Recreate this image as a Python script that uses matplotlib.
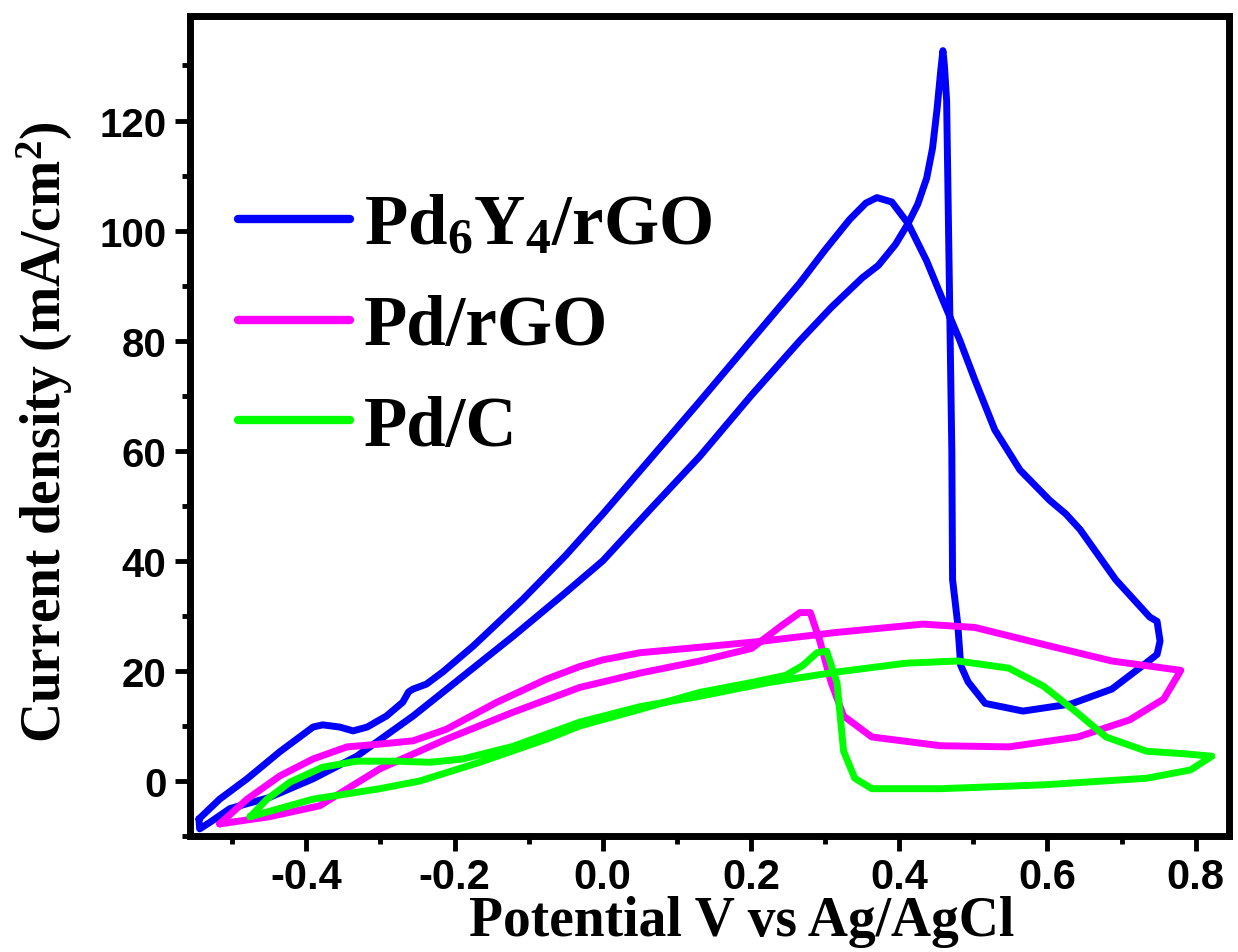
import matplotlib
matplotlib.use('Agg')
import matplotlib.pyplot as plt
from matplotlib import font_manager
from matplotlib.ticker import MultipleLocator

# Pd6Y4/rGO  (closed CV loop)
pdy_x = [-0.545, -0.517, -0.480, -0.436, -0.409, -0.391, -0.378, -0.355, -0.337, -0.318,
         -0.292, -0.270, -0.262, -0.256, -0.238, -0.216, -0.175, -0.108, -0.050, 0.000,
         0.131, 0.200, 0.266, 0.300, 0.333, 0.355, 0.370, 0.390, 0.412, 0.437,
         0.460, 0.482, 0.502, 0.529, 0.563, 0.603, 0.625, 0.644, 0.692, 0.738,
         0.748, 0.752, 0.748, 0.729, 0.687, 0.632, 0.567, 0.516, 0.493, 0.483,
         0.479, 0.472, 0.471, 0.468, 0.466, 0.464, 0.461, 0.459, 0.456, 0.451,
         0.445, 0.437, 0.425, 0.412, 0.395, 0.372, 0.350, 0.308, 0.266, 0.200,
         0.131, 0.065, 0.000, -0.054, -0.121, -0.189, -0.256, -0.332, -0.391, -0.450,
         -0.503, -0.530, -0.544, -0.545]
pdy_y = [-6.9, -3.3, 0.4, 5.3, 8.0, 9.8, 10.2, 9.8, 9.1, 9.8,
         11.8, 14.3, 16.2, 16.7, 17.6, 19.8, 24.5, 33.0, 41.0, 48.5,
         69.0, 80.0, 90.5, 96.5, 102.0, 105.0, 106.0, 105.2, 101.3, 94.5,
         87.0, 80.0, 72.9, 63.8, 56.5, 51.0, 48.5, 45.7, 36.6, 29.8,
         29.0, 25.4, 23.0, 21.0, 16.7, 14.0, 12.7, 14.1, 18.0, 21.0,
         28.5, 36.6, 60.0, 87.4, 105.5, 123.6, 130.0, 132.7, 129.0, 122.0,
         115.0, 109.5, 104.8, 101.3, 97.5, 93.7, 91.4, 86.0, 80.0, 70.0,
         59.0, 49.5, 40.0, 33.8, 26.3, 19.0, 11.8, 4.5, 0.4, -3.0,
         -5.0, -7.5, -8.7, -6.9]

# Pd/rGO
pd_rgo_x = [-0.517, -0.480, -0.436, -0.391, -0.345, -0.301, -0.256, -0.211, -0.143, -0.076,
            -0.031, 0.000, 0.050, 0.131, 0.215, 0.316, 0.432, 0.502, 0.595, 0.687,
            0.780, 0.757, 0.711, 0.641, 0.548, 0.456, 0.363, 0.325, 0.308, 0.293,
            0.280, 0.266, 0.238, 0.201, 0.131, 0.050, -0.031, -0.121, -0.211, -0.301,
            -0.382, -0.450, -0.517]
pd_rgo_y = [-7.8, -3.3, 0.9, 4.0, 6.2, 6.7, 7.3, 9.4, 14.3, 18.5,
            20.8, 22.0, 23.3, 24.3, 25.4, 27.0, 28.5, 27.9, 24.8, 21.8,
            20.1, 14.9, 11.1, 8.0, 6.2, 6.4, 8.0, 11.8, 18.0, 25.4,
            30.6, 30.6, 27.9, 24.1, 21.8, 19.6, 17.0, 12.5, 7.6, 2.2,
            -4.5, -6.5, -7.8]

# Pd/C
pd_c_x = [-0.476, -0.453, -0.422, -0.378, -0.332, -0.278, -0.233, -0.189, -0.121, -0.031,
          0.050, 0.131, 0.224, 0.316, 0.409, 0.479, 0.548, 0.595, 0.641, 0.679,
          0.734, 0.789, 0.822, 0.793, 0.734, 0.595, 0.456, 0.363, 0.340, 0.325,
          0.316, 0.302, 0.289, 0.270, 0.247, 0.201, 0.131, 0.050, -0.031, -0.076,
          -0.166, -0.247, -0.301, -0.391, -0.476]
pd_c_y = [-6.5, -3.3, -0.2, 2.5, 3.6, 3.6, 3.4, 4.0, 6.3, 10.7,
          13.5, 15.4, 17.9, 19.8, 21.4, 21.8, 20.5, 17.2, 12.3, 8.0,
          5.4, 4.9, 4.5, 2.0, 0.5, -0.7, -1.4, -1.4, 0.5, 5.4,
          17.9, 23.6, 23.3, 21.0, 19.2, 17.9, 16.1, 13.0, 10.0, 7.6,
          3.4, 0.0, -1.4, -3.3, -6.5]

series = [
    (pdy_x, pdy_y, '#0000ff', r'Pd$_6$Y$_4$/rGO'),
    (pd_rgo_x, pd_rgo_y, '#ff00ff', 'Pd/rGO'),
    (pd_c_x, pd_c_y, '#00ff00', 'Pd/C'),
]

xtick_vals = [-0.4, -0.2, 0.0, 0.2, 0.4, 0.6, 0.8]
xtick_labels = ['-0.4', '-0.2', '0.0', '0.2', '0.4', '0.6', '0.8']
ytick_vals = [0, 20, 40, 60, 80, 100, 120]
ytick_labels = ['0', '20', '40', '60', '80', '100', '120']

plt.rcParams['mathtext.fontset'] = 'custom'
plt.rcParams['mathtext.rm'] = 'Liberation Serif:bold'
plt.rcParams['mathtext.bf'] = 'Liberation Serif:bold'
plt.rcParams['mathtext.it'] = 'Liberation Serif:bold'

xtick_font = font_manager.FontProperties(family='Liberation Sans', weight='bold', size=30)
ytick_font = font_manager.FontProperties(family='Liberation Sans', weight='bold', size=29)
label_font = font_manager.FontProperties(family='Liberation Serif', weight='bold', size=40)
legend_font = font_manager.FontProperties(family='Liberation Serif', weight='bold', size=51)

fig = plt.figure(figsize=(12.38, 9.53), dpi=100)
ax = fig.add_axes([0.1535, 0.1217, 0.8392, 0.8605])

for x, y, c, lab in series:
    ax.plot(x, y, color=c, lw=5, label=lab, solid_capstyle='round', solid_joinstyle='round')

ax.set_xlim(-0.557, 0.845)
ax.set_ylim(-10, 139)

ax.set_xticks(xtick_vals)
ax.set_xticklabels(xtick_labels, fontproperties=xtick_font)
ax.set_yticks(ytick_vals)
ax.set_yticklabels(ytick_labels, fontproperties=ytick_font)
ax.xaxis.set_minor_locator(MultipleLocator(0.1))
ax.yaxis.set_minor_locator(MultipleLocator(10))
ax.tick_params(which='major', direction='out', length=11, width=3.5, pad=6)
ax.tick_params(which='minor', direction='out', length=6, width=3.5)
ax.tick_params(axis='x', which='major', pad=4)
for s in ax.spines.values():
    s.set_linewidth(5)

ax.set_xlabel('Potential V vs Ag/AgCl', fontproperties=label_font)
ax.xaxis.set_label_coords(0.531, -0.072)
ax.set_ylabel('Current density (mA/cm$^2$)', fontproperties=label_font)
ax.yaxis.set_label_coords(-0.111, 0.494)

leg = ax.legend(loc='upper left', bbox_to_anchor=(0.046, 0.783), frameon=False,
                prop=legend_font, handlelength=1.58, handletextpad=0.2,
                labelspacing=0.5, borderpad=0, borderaxespad=0)
for h in leg.get_lines():
    h.set_linewidth(6)

fig.savefig('out.png', dpi=100)
